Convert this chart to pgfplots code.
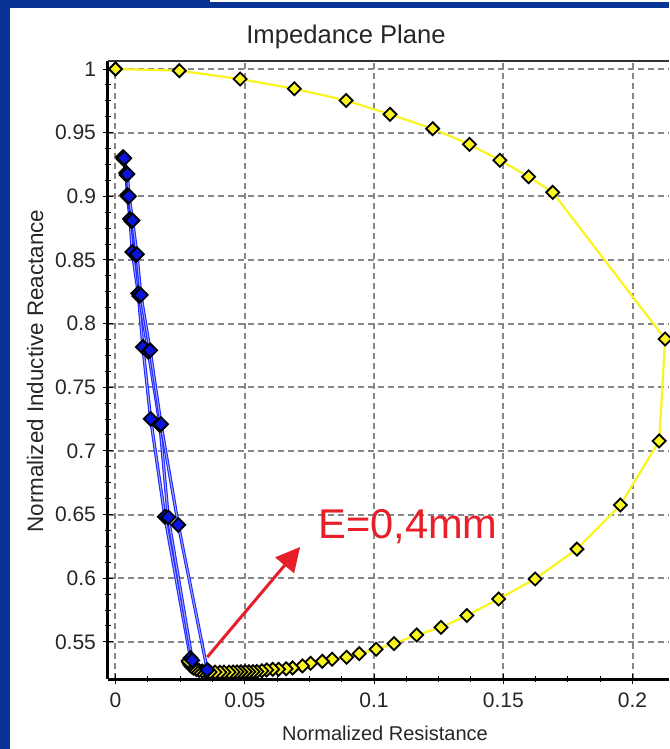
\documentclass[border=0pt]{standalone}
\usepackage{pgfplots}
\pgfplotsset{compat=1.18}
\usepackage{pgfplotstable}
\usepackage{fontspec}
\setmainfont{Liberation Sans}
\usetikzlibrary{arrows.meta}
\pgfdeclarelayer{background}
\pgfsetlayers{background,main}

\definecolor{frameblue}{RGB}{8,52,150}
\definecolor{curveyellow}{RGB}{250,245,30}
\definecolor{markblue}{RGB}{10,20,220}
\definecolor{lineblue}{RGB}{30,40,255}
\definecolor{annotred}{RGB}{232,30,40}
\definecolor{gridgray}{RGB}{135,135,135}

% Reference coil response (normalized impedance plane)
\pgfplotstableread{
x y
0.0000 1.0000
0.0247 0.9987
0.0482 0.9921
0.0692 0.9845
0.0892 0.9753
0.1062 0.9644
0.1227 0.9531
0.1369 0.9408
0.1487 0.9283
0.1598 0.9154
0.1691 0.9031
0.2126 0.7879
0.2103 0.7078
0.1953 0.6575
0.1785 0.6229
0.1623 0.5994
0.1482 0.5837
0.1359 0.5707
0.1259 0.5613
0.1165 0.5554
0.1077 0.5486
0.1008 0.5442
0.0943 0.5407
0.0894 0.5379
0.0838 0.5363
0.0800 0.5347
0.0755 0.5332
0.0723 0.5311
0.0685 0.5295
0.0660 0.5289
0.0631 0.5284
0.0608 0.5284
0.0585 0.5279
0.0566 0.5273
0.0547 0.5267
0.0532 0.5266
0.0516 0.5265
0.0501 0.5265
0.0485 0.5264
0.0470 0.5264
0.0455 0.5263
0.0439 0.5262
0.0420 0.5262
0.0404 0.5261
0.0385 0.5262
0.0366 0.5263
0.0350 0.5266
0.0336 0.5270
0.0323 0.5276
0.0312 0.5284
0.0302 0.5294
0.0294 0.5306
0.0288 0.5320
0.0284 0.5335
0.0281 0.5350
}\yellowcurve

% Lift-off traces, E = 0.4 mm
\pgfplotstableread{
x y
0.0029 0.9309
0.0041 0.9183
0.0046 0.9010
0.0056 0.8822
0.0065 0.8562
0.0088 0.8238
0.0106 0.7816
0.0136 0.7251
0.0191 0.6483
0.0290 0.5373
}\blueA
\pgfplotstableread{
x y
0.0031 0.9294
0.0043 0.9168
0.0049 0.8995
0.0062 0.8805
0.0079 0.8539
0.0092 0.8217
0.0127 0.7779
0.0172 0.7203
0.0204 0.6478
0.0297 0.5355
}\blueB
\pgfplotstableread{
x y
0.0034 0.9300
0.0046 0.9175
0.0052 0.9000
0.0066 0.8810
0.0083 0.8545
0.0098 0.8225
0.0134 0.7790
0.0176 0.7210
0.0243 0.6418
0.0355 0.5279
}\blueC

\pgfplotsset{
  blueline/.style={lineblue, line width=0.55pt, double=blue!35!white, double distance=0.5pt, forget plot},
  bluemarks/.style={only marks, mark=square*, mark size=2.45pt,
    mark options={rotate=45, fill=markblue, draw=black, line width=0.9pt}, forget plot},
}

\begin{document}
\begin{tikzpicture}[x=1pt,y=1pt]
\begin{axis}[
  name=ax,
  scale only axis, width=280.5pt, height=309pt,
  xmin=-0.0029, xmax=0.2141, ymin=0.5208, ymax=1.0063,
  axis x line*=bottom, axis y line*=left,
  axis line style={-, line width=1.5pt, black},
  xtick={0,0.05,0.1,0.15,0.2},
  ytick={0.55,0.6,0.65,0.7,0.75,0.8,0.85,0.9,0.95,1},
  minor tick num=3,
  tick align=center,
  major tick length=5pt, minor tick length=3pt,
  tick style={black, line width=0.5pt},
  grid=major,
  major grid style={gridgray, dash pattern=on 2.8pt off 2.2pt, line width=1pt},
  scaled ticks=false,
  /pgf/number format/assume math mode=true,
  xticklabel style={font=\fontsize{10.5}{12}\selectfont, text=black!85, yshift=-1pt, /pgf/number format/fixed, /pgf/number format/precision=2},
  yticklabel style={font=\fontsize{10.5}{12}\selectfont, text=black!85, /pgf/number format/fixed, /pgf/number format/precision=2},
]
\coordinate (O) at (rel axis cs:0,0);
\draw[black!80, line width=0.7pt] (rel axis cs:0,1) -- (rel axis cs:1,1);

\addplot[curveyellow, line width=1.1pt, mark=square*, mark size=2.3pt,
  mark options={rotate=45, fill=curveyellow, draw=black, line width=0.9pt}]
  table {\yellowcurve};

\addplot[blueline] table {\blueA};
\addplot[blueline] table {\blueB};
\addplot[blueline] table {\blueC};
\addplot[bluemarks] table {\blueA};
\addplot[bluemarks] table {\blueB};
\addplot[bluemarks] table {\blueC};

\draw[annotred, line width=1.5pt, -{Triangle[length=12pt,width=12pt]}]
  (axis cs:0.0355,0.5380) -- (axis cs:0.0714,0.6245);
\node[anchor=west, inner sep=0pt, text=annotred, font=\fontsize{20.8}{24}\selectfont]
  at (axis cs:0.0783,0.6402) {E=0,4mm};
\end{axis}

% page frame placed relative to the plot box corner
\coordinate (P0) at ([shift={(-54pt,-35pt)}]O);
\begin{pgfonlayer}{background}
\begin{scope}[shift={(P0)}]
\fill[white] (0,0) rectangle (334.5,374.5);
\fill[frameblue] (0,0) rectangle (5,374.5);
\fill[frameblue] (0,370.5) rectangle (334.5,374.5);
\fill[white] (105,373.6) rectangle (334.5,374.5);
\end{scope}
\end{pgfonlayer}
\begin{scope}[shift={(P0)}]
\node[font=\fontsize{12.8}{15}\selectfont, text=black!85] at (173,356) {Impedance Plane};
\node[font=\fontsize{10}{12}\selectfont, text=black!85] at (192.5,8) {Normalized Resistance};
\node[font=\fontsize{11.2}{13}\selectfont, text=black!85, rotate=90] at (17.5,189) {Normalized Inductive Reactance};
\end{scope}
\pgfresetboundingbox
\path[use as bounding box] (P0) rectangle ([shift={(334.5pt,374.5pt)}]P0);
\end{tikzpicture}
\end{document}
